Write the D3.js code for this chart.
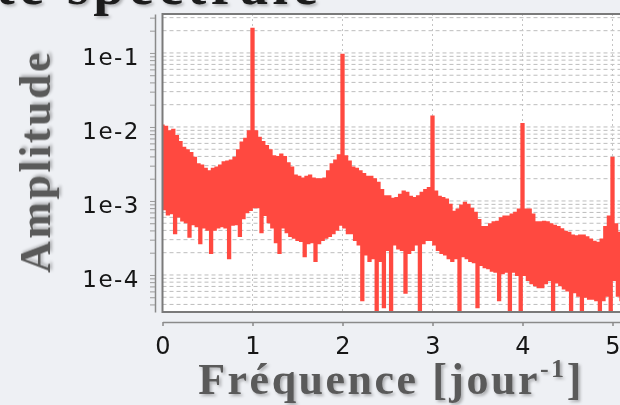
<!DOCTYPE html>
<html><head><meta charset="utf-8">
<script src="https://cdn.jsdelivr.net/npm/d3@7/dist/d3.min.js"></script>
<style>html,body{margin:0;padding:0;background:#eef0f4;overflow:hidden}</style>
</head><body><svg id="c" width="620" height="405"></svg>
<script>
// ---- data ----
const titleText = "Densité spectrale";
const yAxisTitle = "Amplitude";
const xAxisTitle = "Fréquence [jour";
const xAxisTitleExp = "-1";
const xAxisTitleEnd = "]";
const xTickValues = [0, 1, 2, 3, 4, 5];
const xTickLabels = ["0", "1", "2", "3", "4", "5"];
const yTickValues = [1e-1, 1e-2, 1e-3, 1e-4];
const yTickLabels = ["1e-1", "1e-2", "1e-3", "1e-4"];
const freqStep = 0.02; // jour^-1 between samples, starting at 0
// amplitude spectrum, in units of 1e-4
const amplitudeE4 = [
  104, 7.8, 100, 6.6, 87, 6.9, 91, 3.7, 75, 6.2,
  62, 5.5, 52, 5.2, 48, 3.3, 44, 4.9, 38, 4.6,
  31, 2.7, 30, 4.4, 27, 4.1, 25, 2.0, 27, 4.1,
  28, 4.4, 30, 4.6, 33, 4.4, 34, 1.7, 35, 4.8,
  38, 4.9, 48, 3.4, 61, 5.9, 69, 7.1, 87, 7.6,
  2110, 8.3, 87, 8.3, 71, 3.8, 62, 6.5, 55, 5.2,
  48, 4.4, 40, 2.8, 39, 2.0, 42, 4.4, 39, 3.8,
  32, 3.4, 28, 3.2, 22, 3.0, 21, 2.9, 20, 1.8,
  21, 2.7, 22, 2.8, 20, 1.56, 19.5, 2.7, 19.5, 3.0,
  20, 3.2, 25, 3.4, 31, 3.7, 35, 4.1, 41, 4.8,
  936, 4.4, 40, 3.7, 34, 3.7, 28, 3.0, 27, 2.6,
  25, 0.46, 23, 1.9, 21, 1.56, 21, 1.7, 19.5, 0.25,
  17.5, 1.56, 14, 0.37, 11.5, 2.2, 11.5, 0.25, 10.6, 2.6,
  10.9, 2.3, 12, 2.2, 13.3, 0.58, 12.8, 2.0, 11.3, 2.2,
  10.9, 2.6, 11.5, 0.25, 12.8, 2.7, 14, 3.0, 14.8, 3.0,
  137, 2.6, 13.3, 2.2, 11.3, 2.0, 10.9, 1.9, 10.4, 1.7,
  8.8, 1.56, 7.1, 1.7, 7.6, 0.25, 8.6, 1.8, 9.4, 1.7,
  8.8, 1.56, 7.8, 1.5, 6.9, 0.37, 5.5, 1.37, 4.4, 1.28,
  4.4, 1.24, 4.8, 1.15, 5.1, 1.11, 5.2, 0.46, 5.8, 1.06,
  6.1, 1.11, 6.1, 0.25, 6.5, 1.11, 6.9, 1.01, 7.6, 0.25,
  109, 1.01, 7.6, 0.86, 7.6, 0.78, 6.5, 0.73, 5.1, 0.69,
  5.1, 0.69, 5.2, 0.78, 5.1, 0.86, 4.8, 0.25, 4.6, 0.8,
  4.4, 0.73, 4.1, 0.66, 3.8, 0.62, 3.7, 0.25, 3.4, 0.59,
  3.3, 0.53, 3.4, 0.25, 3.4, 0.51, 3.2, 0.48, 3.0, 0.48,
  2.8, 0.46, 2.7, 0.25, 3.0, 0.46, 4.4, 0.53, 6.1, 0.25,
  38, 0.86, 4.8, 0.53, 3.7, 0.46
];

// ---- chart ----
const svg = d3.select("#c");
const W = 620, H = 405;
const plot = {left: 162.5, right: 622, top: 14, bottom: 312};

const series = amplitudeE4.map((v, i) => ({f: i * freqStep, a: v * 1e-4}));

const x = d3.scaleLinear().domain([0, 5.1]).range([plot.left, plot.left + 5.1 * 90]);
const y = d3.scaleLog().domain([3.16e-5, 0.336]).range([plot.bottom, plot.top]);

const defs = svg.append("defs");
defs.append("clipPath").attr("id", "clip").append("rect")
  .attr("x", plot.left).attr("y", plot.top)
  .attr("width", plot.right - plot.left).attr("height", plot.bottom - plot.top);
const f = defs.append("filter").attr("id", "sh").attr("x", "-10%").attr("y", "-20%").attr("width", "130%").attr("height", "160%");
f.append("feDropShadow").attr("dx", 2).attr("dy", 2).attr("stdDeviation", 1.5)
  .attr("flood-color", "#000").attr("flood-opacity", 0.28);
defs.append("filter").attr("id", "soft").attr("x", 0).attr("y", 0).attr("width", 1).attr("height", 1)
  .append("feGaussianBlur").attr("stdDeviation", 0.45);

const root = svg.append("g").attr("filter", "url(#soft)");
root.append("rect").attr("width", W).attr("height", H).attr("fill", "#eef0f4");

// title (mostly cut off at the top)
root.append("text").attr("x", 322).attr("y", 4).attr("text-anchor", "end")
  .attr("font-family", "Liberation Serif").attr("font-weight", "bold")
  .attr("font-size", 56).attr("letter-spacing", 4.5).attr("fill", "#1c1c1c")
  .attr("filter", "url(#sh)").text(titleText);

// plot background
root.append("rect").attr("x", plot.left).attr("y", plot.top)
  .attr("width", plot.right - plot.left).attr("height", plot.bottom - plot.top)
  .attr("fill", "#ffffff");

// grid
const minorTicks = y.ticks().filter(v => v >= y.domain()[0] && v <= y.domain()[1]);
const grid = root.append("g");
grid.selectAll("line.h").data(minorTicks).join("line").attr("class", "h")
  .attr("x1", plot.left).attr("x2", plot.right)
  .attr("y1", d => y(d)).attr("y2", d => y(d))
  .attr("stroke", "#bdbdbd").attr("stroke-width", 1).attr("stroke-dasharray", "4,3");
grid.selectAll("line.v").data(xTickValues.slice(1)).join("line").attr("class", "v")
  .attr("x1", d => x(d)).attr("x2", d => x(d))
  .attr("y1", plot.top).attr("y2", plot.bottom)
  .attr("stroke", "#c4c4c4").attr("stroke-width", 1).attr("stroke-dasharray", "2,3");

// spectrum line
root.append("path").datum(series)
  .attr("clip-path", "url(#clip)")
  .attr("fill", "none").attr("stroke", "#ff4a40").attr("stroke-width", 2.5)
  .attr("stroke-linejoin", "miter")
  .attr("d", d3.line().x(d => x(d.f)).y(d => y(d.a)).curve(d3.curveStep));

// frame
root.append("rect").attr("x", plot.left).attr("y", plot.top)
  .attr("width", plot.right - plot.left).attr("height", plot.bottom - plot.top)
  .attr("fill", "none").attr("stroke", "#7a7a7a").attr("stroke-width", 2);

// left axis (offset)
const yAxis = root.append("g").attr("transform", "translate(155,0)")
  .call(d3.axisLeft(y).tickValues(minorTicks).tickSize(5).tickSizeOuter(0).tickFormat(""));
yAxis.select(".domain").attr("stroke", "#8a8a8a").attr("stroke-width", 1.5);
yAxis.selectAll(".tick line").attr("stroke", "#9a9a9a");
root.append("g").selectAll("text").data(yTickValues).join("text")
  .attr("x", 140).attr("y", d => y(d) + 4)
  .attr("text-anchor", "end").attr("dominant-baseline", "central")
  .attr("font-family", "DejaVu Sans").attr("font-size", 23).attr("letter-spacing", 1.5)
  .attr("fill", "#141414")
  .text((d, i) => yTickLabels[i]);

// bottom axis (offset)
const xAxis = root.append("g").attr("transform", "translate(0,322)")
  .call(d3.axisBottom(x).tickValues(xTickValues).tickSize(4).tickSizeOuter(0).tickPadding(11)
    .tickFormat((d, i) => xTickLabels[i]));
xAxis.select(".domain").attr("stroke", "#8a8a8a").attr("stroke-width", 1.5);
xAxis.selectAll(".tick line").attr("stroke", "#8a8a8a").attr("stroke-width", 1.5);
xAxis.selectAll(".tick text").attr("font-family", "DejaVu Sans").attr("font-size", 24).attr("fill", "#141414");

// axis titles
root.append("text").attr("transform", "translate(50,161.5) rotate(-90)")
  .attr("text-anchor", "middle")
  .attr("font-family", "Liberation Serif").attr("font-weight", "bold")
  .attr("font-size", 44).attr("letter-spacing", 2.5).attr("fill", "#5a5a5a")
  .attr("filter", "url(#sh)").text(yAxisTitle);

const xt = root.append("text").attr("x", 391).attr("y", 394)
  .attr("text-anchor", "middle")
  .attr("font-family", "Liberation Serif").attr("font-weight", "bold")
  .attr("font-size", 44).attr("letter-spacing", 2.5).attr("fill", "#5a5a5a")
  .attr("filter", "url(#sh)");
xt.append("tspan").text(xAxisTitle);
xt.append("tspan").attr("font-size", 26).attr("dy", -17).text(xAxisTitleExp);
xt.append("tspan").attr("dy", 17).text(xAxisTitleEnd);
</script></body></html>
